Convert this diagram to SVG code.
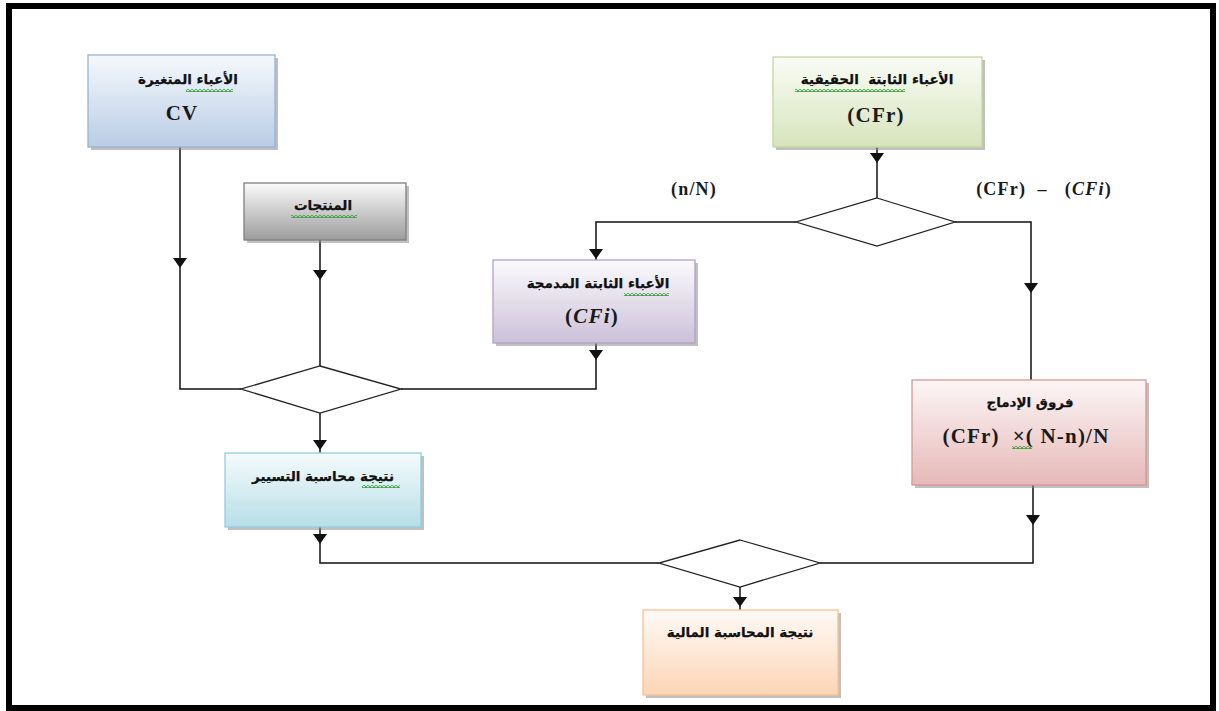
<svg xmlns="http://www.w3.org/2000/svg" xmlns:xlink="http://www.w3.org/1999/xlink" width="1219" height="711" viewBox="0 0 1219 711">
  <style>
    .box { stroke-width: 1.3; }
    .shadow { fill: #8c8c8c; opacity: 0.55; }
    .ar { font-family: "DejaVu Sans", "Noto Sans", sans-serif; font-weight: bold; font-size: 13.5px; fill: #111; stroke: #111; stroke-width: 0.25px; text-anchor: middle; direction: rtl; unicode-bidi: embed; }
    .lat { font-family: "Liberation Serif", "DejaVu Serif", serif; font-weight: bold; font-size: 21px; letter-spacing: 1.2px; fill: #1a1a1a; text-anchor: middle; }
    .lbl { font-family: "Liberation Serif", "DejaVu Serif", serif; font-weight: bold; font-size: 18px; letter-spacing: 1.2px; fill: #1a1a1a; text-anchor: middle; }
    .it { font-style: italic; }
    .line { fill: none; stroke: #111; stroke-width: 1.5; }
    .dia { fill: #fff; stroke: #222; stroke-width: 1.3; }
    .squig { fill: url(#squig); }
  </style>
  <defs>
    <linearGradient id="gBlue" x1="0" y1="0" x2="0" y2="1"><stop offset="0" stop-color="#f6f9fc"/><stop offset="1" stop-color="#b9cde5"/></linearGradient>
    <linearGradient id="gGray" x1="0" y1="0" x2="0" y2="1"><stop offset="0" stop-color="#fbfbfb"/><stop offset="1" stop-color="#9c9c9c"/></linearGradient>
    <linearGradient id="gGreen" x1="0" y1="0" x2="0" y2="1"><stop offset="0" stop-color="#fafcf5"/><stop offset="1" stop-color="#d7e4bd"/></linearGradient>
    <linearGradient id="gPurple" x1="0" y1="0" x2="0" y2="1"><stop offset="0" stop-color="#fbfafc"/><stop offset="1" stop-color="#ccc1da"/></linearGradient>
    <linearGradient id="gRed" x1="0" y1="0" x2="0" y2="1"><stop offset="0" stop-color="#fcf6f6"/><stop offset="1" stop-color="#e6b9b8"/></linearGradient>
    <linearGradient id="gCyan" x1="0" y1="0" x2="0" y2="1"><stop offset="0" stop-color="#f5fbfc"/><stop offset="1" stop-color="#b7dee8"/></linearGradient>
    <linearGradient id="gOrange" x1="0" y1="0" x2="0" y2="1"><stop offset="0" stop-color="#fffaf6"/><stop offset="1" stop-color="#fcd5b5"/></linearGradient>
    <pattern id="squig" width="4" height="3" patternUnits="userSpaceOnUse">
      <path d="M0,2.5 L2,0.5 L4,2.5" fill="none" stroke="#2f9a2f" stroke-width="1.1"/>
    </pattern>
    <path id="ah" d="M-7,-5 L7,-5 L0,5 Z" fill="#111"/>
  </defs>

  <rect width="1219" height="711" fill="#fff"/>
  <!-- page frame -->
  <rect x="9" y="6" width="1204" height="702" fill="none" stroke="#000" stroke-width="6"/>

  <!-- connectors -->
  <g id="connectors">
    <path class="line" d="M180,147 V389 H241"/>
    <path class="line" d="M320,240 V366"/>
    <path class="line" d="M596,343 V389 H401"/>
    <path class="line" d="M320,413 V453"/>
    <path class="line" d="M877,147 V198"/>
    <path class="line" d="M796,222 H596 V260"/>
    <path class="line" d="M955,222 H1031 V380"/>
    <path class="line" d="M1033,485 V563 H820"/>
    <path class="line" d="M320,527 V563 H659"/>
    <path class="line" d="M740,587 V610"/>
    <use xlink:href="#ah" x="180" y="263"/>
    <use xlink:href="#ah" x="320" y="275"/>
    <use xlink:href="#ah" x="596" y="355"/>
    <use xlink:href="#ah" x="320" y="445"/>
    <use xlink:href="#ah" x="877" y="158"/>
    <use xlink:href="#ah" x="596" y="254"/>
    <use xlink:href="#ah" x="1031" y="288"/>
    <use xlink:href="#ah" x="1033" y="520"/>
    <use xlink:href="#ah" x="320" y="539"/>
    <use xlink:href="#ah" x="740" y="602"/>
  </g>

  <!-- decision diamonds -->
  <g id="decision-top"><polygon class="dia" points="877,198 955,222 877,246 796,222"/></g>
  <g id="decision-mid"><polygon class="dia" points="320,366 401,389 320,413 241,389"/></g>
  <g id="decision-bottom"><polygon class="dia" points="740,540 820,563 740,587 659,563"/></g>

  <!-- branch labels -->
  <g id="branch-labels">
    <text class="lbl" x="694" y="195">(n/N)</text>
    <text class="lbl" x="1044" y="195" xml:space="preserve">(CFr)  –   (<tspan class="it">CFi</tspan>)</text>
  </g>

  <!-- variable costs -->
  <g id="node-cv">
    <rect class="shadow" x="91" y="58" width="187" height="92"/>
    <rect class="box" x="88" y="55" width="187" height="92" fill="url(#gBlue)" stroke="#95b3d7"/>
    <text class="ar" x="188" y="84">الأعباء المتغيرة</text>
    <rect class="squig" x="186" y="89" width="47" height="3"/>
    <text class="lat" x="182" y="120">CV</text>
  </g>

  <!-- products -->
  <g id="node-products">
    <rect class="shadow" x="247" y="186" width="162" height="57"/>
    <rect class="box" x="244" y="183" width="162" height="57" fill="url(#gGray)" stroke="#7f7f7f"/>
    <text class="ar" x="323" y="210">المنتجات</text>
    <rect class="squig" x="291" y="215" width="66" height="3"/>
  </g>

  <!-- real fixed costs -->
  <g id="node-cfr">
    <rect class="shadow" x="776" y="60" width="209" height="90"/>
    <rect class="box" x="773" y="57" width="209" height="90" fill="url(#gGreen)" stroke="#c3d69b"/>
    <text class="ar" x="877" y="84" xml:space="preserve">الأعباء الثابتة  الحقيقية</text>
    <rect class="squig" x="795" y="89" width="110" height="3"/>
    <text class="lat" x="876" y="122">(CFr)</text>
  </g>

  <!-- incorporated fixed costs -->
  <g id="node-cfi">
    <rect class="shadow" x="496" y="263" width="202" height="83"/>
    <rect class="box" x="493" y="260" width="202" height="83" fill="url(#gPurple)" stroke="#b3a2c7"/>
    <text class="ar" x="598" y="288">الأعباء الثابتة المدمجة</text>
    <rect class="squig" x="624" y="293" width="45" height="3"/>
    <text class="lat" x="592" y="323">(<tspan class="it">CFi</tspan>)</text>
  </g>

  <!-- incorporation differences -->
  <g id="node-diff">
    <rect class="shadow" x="915" y="383" width="234" height="105"/>
    <rect class="box" x="912" y="380" width="234" height="105" fill="url(#gRed)" stroke="#d99694"/>
    <text class="ar" x="1030" y="407">فروق الإدماج</text>
    <text class="lat" x="1026" y="443" xml:space="preserve">(CFr)  ×( N-n)/N</text>
    <rect class="squig" x="1012" y="446" width="20" height="3"/>
  </g>

  <!-- management accounting result -->
  <g id="node-mgmt">
    <rect class="shadow" x="228" y="456" width="196" height="74"/>
    <rect class="box" x="225" y="453" width="196" height="74" fill="url(#gCyan)" stroke="#93cddd"/>
    <text class="ar" x="323" y="481">نتيجة محاسبة التسيير</text>
    <rect class="squig" x="362" y="485" width="38" height="3"/>
  </g>

  <!-- financial accounting result -->
  <g id="node-fin">
    <rect class="shadow" x="646" y="613" width="195" height="85"/>
    <rect class="box" x="643" y="610" width="195" height="85" fill="url(#gOrange)" stroke="#fac090"/>
    <text class="ar" x="740" y="637">نتيجة المحاسبة المالية</text>
  </g>
</svg>
